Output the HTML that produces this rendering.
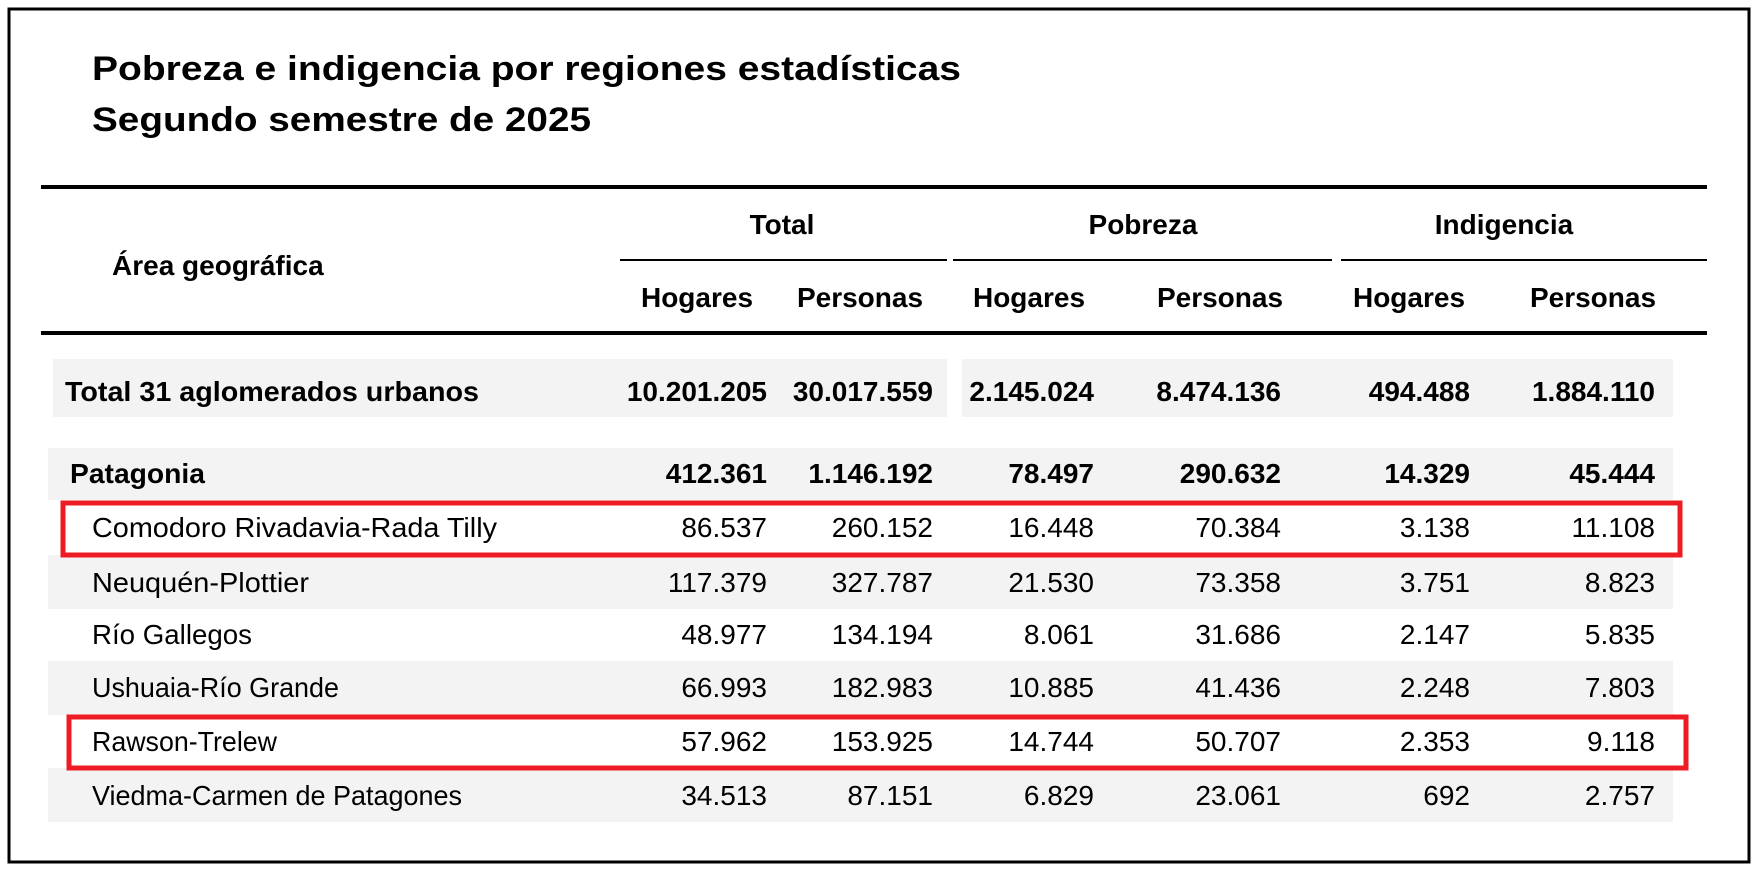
<!DOCTYPE html>
<html><head><meta charset="utf-8"><style>
html,body{margin:0;padding:0;background:#fff;}
svg{display:block;}
text{font-family:"Liberation Sans Narrow","Liberation Sans",sans-serif;font-size:28px;fill:#000;}
.b{font-weight:bold;}
.t{font-family:"Liberation Sans",sans-serif;font-weight:bold;font-size:34px;}
.r{text-anchor:end;}
.c{text-anchor:middle;}
</style></head><body>
<svg width="1758" height="870" viewBox="0 0 1758 870" xmlns="http://www.w3.org/2000/svg">
<rect x="0" y="0" width="1758" height="870" fill="#fff"/>
<rect x="9" y="9" width="1740" height="853" fill="none" stroke="#000" stroke-width="3"/>
<text class="t" x="92" y="80" textLength="869" lengthAdjust="spacingAndGlyphs">Pobreza e indigencia por regiones estadísticas</text>
<text class="t" x="92" y="131" textLength="499" lengthAdjust="spacingAndGlyphs">Segundo semestre de 2025</text>
<rect x="41" y="185" width="1666" height="4" fill="#000"/>
<rect x="41" y="331" width="1666" height="4" fill="#000"/>
<rect x="620" y="259" width="327" height="2" fill="#000"/>
<rect x="953" y="259" width="379" height="2" fill="#000"/>
<rect x="1341" y="259" width="366" height="2" fill="#000"/>
<text class="b c" x="782" y="234">Total</text>
<text class="b c" x="1143" y="234">Pobreza</text>
<text class="b c" x="1504" y="234">Indigencia</text>
<text class="b" x="112" y="275">Área geográfica</text>
<text class="b c" x="697" y="307">Hogares</text>
<text class="b c" x="860" y="307">Personas</text>
<text class="b c" x="1029" y="307">Hogares</text>
<text class="b c" x="1220" y="307">Personas</text>
<text class="b c" x="1409" y="307">Hogares</text>
<text class="b c" x="1593" y="307">Personas</text>
<rect x="53" y="359" width="894" height="58" fill="#f3f3f3"/>
<rect x="962" y="359" width="711" height="58" fill="#f3f3f3"/>
<rect x="48" y="448" width="1625" height="52" fill="#f3f3f3"/>
<rect x="48" y="555" width="1625" height="54" fill="#f3f3f3"/>
<rect x="48" y="661" width="1625" height="54" fill="#f3f3f3"/>
<rect x="48" y="768" width="1625" height="54" fill="#f3f3f3"/>

<text class="b" x="65" y="401" textLength="414" lengthAdjust="spacingAndGlyphs">Total 31 aglomerados urbanos</text>
<text class="b r" x="767" y="401">10.201.205</text><text class="b r" x="933" y="401">30.017.559</text><text class="b r" x="1094" y="401">2.145.024</text><text class="b r" x="1281" y="401">8.474.136</text><text class="b r" x="1470" y="401">494.488</text><text class="b r" x="1655" y="401">1.884.110</text>
<text class="b" x="70" y="483" textLength="135" lengthAdjust="spacingAndGlyphs">Patagonia</text>
<text class="b r" x="767" y="483">412.361</text><text class="b r" x="933" y="483">1.146.192</text><text class="b r" x="1094" y="483">78.497</text><text class="b r" x="1281" y="483">290.632</text><text class="b r" x="1470" y="483">14.329</text><text class="b r" x="1655" y="483">45.444</text>

<text x="92" y="537" textLength="405" lengthAdjust="spacingAndGlyphs">Comodoro Rivadavia-Rada Tilly</text>
<text class="r" x="767" y="537">86.537</text><text class="r" x="933" y="537">260.152</text><text class="r" x="1094" y="537">16.448</text><text class="r" x="1281" y="537">70.384</text><text class="r" x="1470" y="537">3.138</text><text class="r" x="1655" y="537">11.108</text>

<text x="92" y="592" textLength="217" lengthAdjust="spacingAndGlyphs">Neuquén-Plottier</text>
<text class="r" x="767" y="592">117.379</text><text class="r" x="933" y="592">327.787</text><text class="r" x="1094" y="592">21.530</text><text class="r" x="1281" y="592">73.358</text><text class="r" x="1470" y="592">3.751</text><text class="r" x="1655" y="592">8.823</text>

<text x="92" y="644" textLength="160" lengthAdjust="spacingAndGlyphs">Río Gallegos</text>
<text class="r" x="767" y="644">48.977</text><text class="r" x="933" y="644">134.194</text><text class="r" x="1094" y="644">8.061</text><text class="r" x="1281" y="644">31.686</text><text class="r" x="1470" y="644">2.147</text><text class="r" x="1655" y="644">5.835</text>

<text x="92" y="697" textLength="247" lengthAdjust="spacingAndGlyphs">Ushuaia-Río Grande</text>
<text class="r" x="767" y="697">66.993</text><text class="r" x="933" y="697">182.983</text><text class="r" x="1094" y="697">10.885</text><text class="r" x="1281" y="697">41.436</text><text class="r" x="1470" y="697">2.248</text><text class="r" x="1655" y="697">7.803</text>

<text x="92" y="751" textLength="185" lengthAdjust="spacingAndGlyphs">Rawson-Trelew</text>
<text class="r" x="767" y="751">57.962</text><text class="r" x="933" y="751">153.925</text><text class="r" x="1094" y="751">14.744</text><text class="r" x="1281" y="751">50.707</text><text class="r" x="1470" y="751">2.353</text><text class="r" x="1655" y="751">9.118</text>

<text x="92" y="805" textLength="370" lengthAdjust="spacingAndGlyphs">Viedma-Carmen de Patagones</text>
<text class="r" x="767" y="805">34.513</text><text class="r" x="933" y="805">87.151</text><text class="r" x="1094" y="805">6.829</text><text class="r" x="1281" y="805">23.061</text><text class="r" x="1470" y="805">692</text><text class="r" x="1655" y="805">2.757</text>

<rect x="63" y="503" width="1617" height="52" fill="none" stroke="#ed1c24" stroke-width="5"/>
<rect x="69" y="717" width="1617" height="51" fill="none" stroke="#ed1c24" stroke-width="5"/>
</svg>
</body></html>
